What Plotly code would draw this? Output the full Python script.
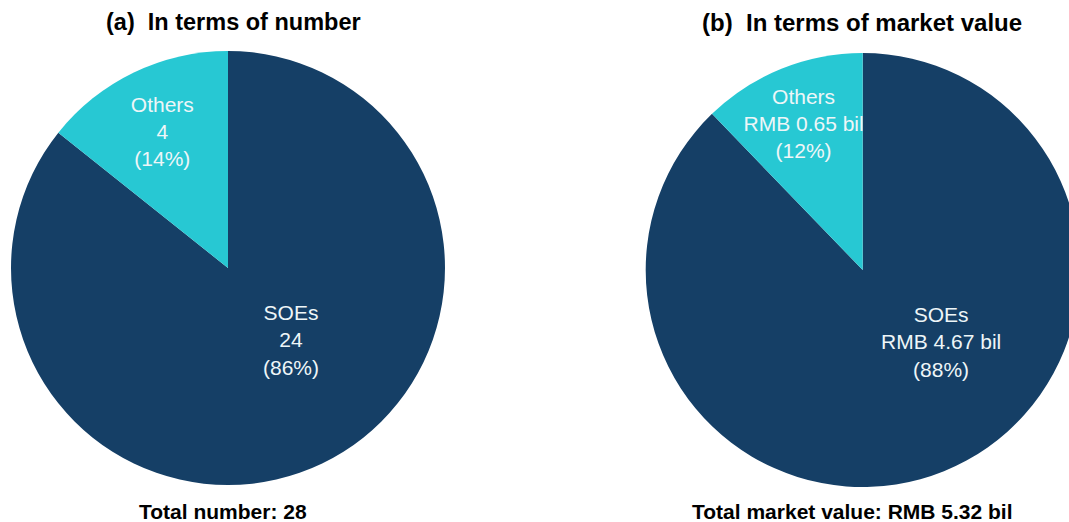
import plotly.graph_objects as go

labels = ["SOEs", "Others"]
count_values = [24, 4]
count_pct = ["86%", "14%"]
value_bil = [4.67, 0.65]
value_pct = ["88%", "12%"]

title_a = "<b>(a)  In terms of number</b>"
title_b = "<b>(b)  In terms of market value</b>"
total_a = "<b>Total number: 28</b>"
total_b = "<b>Total market value: RMB 5.32 bil</b>"

NAVY = "#153f66"
CYAN = "#27c8d3"
FONT = "Liberation Sans, Arial, sans-serif"
TXT = "#eef6f8"

W, H = 1081, 522

def dom(cx, cy, r):
    return dict(x=[(cx - r) / W, (cx + r) / W], y=[(H - cy - r) / H, (H - cy + r) / H])

text_a = [f"{l}<br>{v}<br>({p})" for l, v, p in zip(labels, count_values, count_pct)]
text_b = [f"{l}<br>RMB {v:.2f} bil<br>({p})" for l, v, p in zip(labels, value_bil, value_pct)]

fig = go.Figure()
fig.add_trace(go.Pie(
    labels=labels, values=count_values, text=["", text_a[1]], textinfo="text",
    sort=False, direction="clockwise", rotation=0,
    marker=dict(colors=[NAVY, CYAN], line=dict(width=0)),
    textposition="inside", insidetextorientation="horizontal",
    textfont=dict(family=FONT, size=21, color=TXT),
    domain=dom(228, 268, 217), showlegend=False, hoverinfo="skip",
))
fig.add_trace(go.Pie(
    labels=labels, values=value_bil, text=["", text_b[1]], textinfo="text",
    sort=False, direction="clockwise", rotation=0,
    marker=dict(colors=[NAVY, CYAN], line=dict(width=0)),
    textposition="inside", insidetextorientation="horizontal",
    textfont=dict(family=FONT, size=21, color=TXT),
    domain=dom(862.7, 270, 217), showlegend=False, hoverinfo="skip",
))

# SOE slice labels
for x, y, t in [(291, 340, text_a[0]), (941, 342, text_b[0])]:
    fig.add_annotation(x=x / W, y=1 - y / H, xref="paper", yref="paper", text=t,
                       showarrow=False, xanchor="center", yanchor="middle",
                       font=dict(family=FONT, size=21, color=TXT))

annos = [
    (233 / W, 22, title_a, 23.5),
    (862 / W, 22, title_b, 24),
    (223 / W, 511, total_a, 21),
    (852 / W, 511, total_b, 21),
]
for x, y, t, s in annos:
    fig.add_annotation(x=x, y=1 - y / H, xref="paper", yref="paper", text=t,
                       showarrow=False, xanchor="center", yanchor="middle",
                       font=dict(family=FONT, size=s, color="#000000"))

fig.update_layout(width=W, height=H, margin=dict(l=0, r=0, t=0, b=0),
                  paper_bgcolor="white", plot_bgcolor="white",
                  uniformtext=dict(minsize=21, mode="show"))

fig.write_html("out.html", config={"displayModeBar": False},
               post_script="document.documentElement.style.overflow='hidden';document.body.style.overflow='hidden';document.body.style.margin='0';")
